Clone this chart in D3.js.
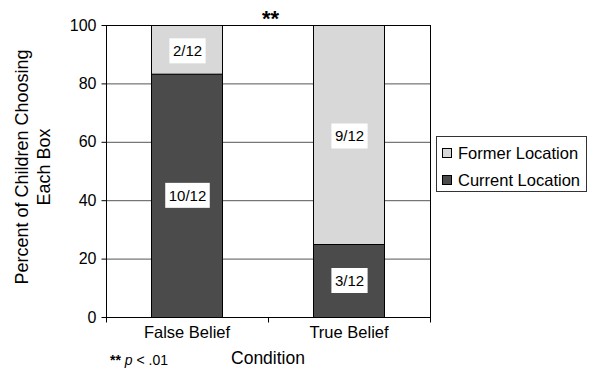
<!DOCTYPE html>
<html><head><meta charset="utf-8">
<script src="https://cdn.jsdelivr.net/npm/d3@7"></script>
<style>body{margin:0;background:#fff}svg{display:block;font-family:Arial,"Liberation Sans",sans-serif}</style>
</head><body><svg id="c" width="595" height="370"></svg>
<script>
const categories = ["False Belief", "True Belief"];
const currentValues = [83.33, 25];
const formerValues = [16.67, 75];
const currentLabels = ["10/12", "3/12"];
const formerLabels = ["2/12", "9/12"];
const seriesNames = ["Former Location", "Current Location"];
const yTicks = [0, 20, 40, 60, 80, 100];

const svg = d3.select("#c");
const L = 106, R = 430, T = 25, B = 317;
const x = d3.scaleBand().domain(categories).range([L, R]).paddingInner(0.56).paddingOuter(0.28);
const y = d3.scaleLinear().domain([0, 100]).range([B, T]);
const dark = "#4b4b4b", light = "#d8d8d8";

// gridlines
svg.append("g").selectAll("line").data(yTicks.filter(d => d > 0 && d < 100)).join("line")
  .attr("x1", L).attr("x2", R).attr("y1", d => y(d) + 0.5).attr("y2", d => y(d) + 0.5)
  .attr("stroke", "#555").attr("stroke-width", 1);
// top and right border
svg.append("line").attr("x1", L).attr("x2", R + 0.5).attr("y1", y(100) + 0.5).attr("y2", y(100) + 0.5).attr("stroke", "#000");
svg.append("line").attr("x1", R + 0.5).attr("x2", R + 0.5).attr("y1", y(100)).attr("y2", B).attr("stroke", "#000");

// bars
const data = categories.map((c, i) => ({c, cur: currentValues[i], form: formerValues[i], cl: currentLabels[i], fl: formerLabels[i]}));
const bars = svg.append("g");
bars.selectAll("rect.cur").data(data).join("rect").attr("class", "cur")
  .attr("x", d => Math.round(x(d.c)) + 0.5).attr("width", Math.round(x.bandwidth()))
  .attr("y", d => y(d.cur) + 0.5).attr("height", d => y(0) - y(d.cur))
  .attr("fill", dark).attr("stroke", "#000");
bars.selectAll("rect.form").data(data).join("rect").attr("class", "form")
  .attr("x", d => Math.round(x(d.c)) + 0.5).attr("width", Math.round(x.bandwidth()))
  .attr("y", d => y(d.cur + d.form) + 0.5).attr("height", d => y(d.cur) - y(d.cur + d.form))
  .attr("fill", light).attr("stroke", "#000");

// value labels
function label(cx, cy, txt) {
  const g = svg.append("g");
  const r = g.append("rect").attr("fill", "#fff");
  const t = g.append("text").attr("x", cx).attr("y", cy).attr("dy", "0.36em")
    .attr("text-anchor", "middle").attr("font-size", 15).attr("fill", "#000").text(txt);
  const w = t.node().getComputedTextLength() + 7;
  r.attr("x", cx - w / 2).attr("y", cy - 12.5).attr("width", w).attr("height", 25);
}
data.forEach(d => {
  const cx = x(d.c) + x.bandwidth() / 2 + 0.5;
  label(cx, (y(0) + y(d.cur)) / 2, d.cl);
  label(cx, (y(d.cur) + y(d.cur + d.form)) / 2 + 1.5, d.fl);
});

// axes
const yAxis = svg.append("g").attr("transform", `translate(${L + 0.5},0)`)
  .call(d3.axisLeft(y).tickValues(yTicks).tickSize(5).tickPadding(5));
yAxis.select(".domain").attr("stroke", "#000").attr("d", `M0,${T}V${B + 0.5}`);
yAxis.selectAll(".tick line").attr("stroke", "#000");
yAxis.selectAll("text").attr("font-size", 16).attr("fill", "#000").attr("font-family", "Arial, 'Liberation Sans', sans-serif");

const xAxis = svg.append("g").attr("transform", `translate(0,${B + 0.5})`);
xAxis.append("line").attr("x1", L).attr("x2", R + 1).attr("stroke", "#000");
const bounds = [L, (L + R) / 2, R];
xAxis.selectAll("line.tk").data(bounds).join("line").attr("class", "tk")
  .attr("x1", d => d + 0.5).attr("x2", d => d + 0.5).attr("y1", 0).attr("y2", 5).attr("stroke", "#000");
xAxis.selectAll("text").data(categories).join("text")
  .attr("x", d => x(d) + x.bandwidth() / 2).attr("y", 20)
  .attr("text-anchor", "middle").attr("font-size", 16.5).attr("fill", "#000").text(d => d);

// titles
svg.append("text").attr("x", 268).attr("y", 364).attr("text-anchor", "middle")
  .attr("font-size", 17.5).attr("fill", "#000").text("Condition");
const yl = svg.append("text").attr("transform", "translate(0,167) rotate(-90)")
  .attr("text-anchor", "middle").attr("font-size", 18).attr("fill", "#000");
yl.append("tspan").attr("x", 0).attr("y", 28).text("Percent of Children Choosing");
yl.append("tspan").attr("x", 0).attr("y", 50).text("Each Box");

svg.append("text").attr("x", 270.5).attr("y", 26).attr("text-anchor", "middle")
  .attr("font-size", 22).attr("font-weight", "bold").attr("fill", "#000").text("**");
const note = svg.append("text").attr("x", 110).attr("y", 365).attr("font-size", 14).attr("fill", "#000");
note.append("tspan").attr("font-weight", "bold").text("**");
note.append("tspan").attr("font-style", "italic").text(" p");
note.append("tspan").text(" < .01");

// legend
const lg = svg.append("g");
lg.append("rect").attr("x", 436.5).attr("y", 136.5).attr("width", 150).attr("height", 55)
  .attr("fill", "#fff").attr("stroke", "#333");
const legendFills = [light, dark];
seriesNames.forEach((n, i) => {
  const yy = 153 + i * 27;
  lg.append("rect").attr("x", 442.5).attr("y", yy - 4.5).attr("width", 9).attr("height", 9)
    .attr("fill", legendFills[i]).attr("stroke", "#000");
  lg.append("text").attr("x", 458).attr("y", yy).attr("dy", "0.36em").attr("font-size", 16.5)
    .attr("fill", "#000").text(n);
});
</script></body></html>
